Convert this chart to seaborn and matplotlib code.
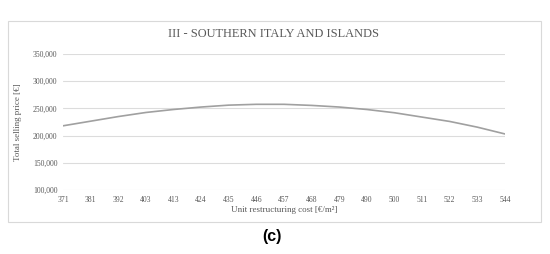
import matplotlib
matplotlib.use("Agg")
import matplotlib.pyplot as plt
from matplotlib.patches import Rectangle
import seaborn as sns
import pandas as pd
import numpy as np

unit_cost = ["371", "381", "392", "403", "413", "424", "435", "446", "457",
             "468", "479", "490", "500", "511", "522", "533", "544"]
selling_price = [218000, 226500, 235000, 242500, 248000, 252500, 256000, 257500, 257500,
                 255500, 252500, 248000, 242000, 234000, 226000, 215500, 203000]
y_ticks = [100000, 150000, 200000, 250000, 300000, 350000]

title = "III - SOUTHERN ITALY AND ISLANDS"
xlabel = "Unit restructuring cost [€/m²]"
ylabel = "Total selling price [€]"
panel = "(c)"

sns.set_theme(style="white")
plt.rcParams['font.family'] = ['Liberation Serif', 'DejaVu Serif']

W, H = 550, 254
fig = plt.figure(figsize=(5.5, 2.54), dpi=100)
ax = fig.add_axes([63 / W, 1 - 190 / H, (505 - 63) / W, (190 - 54) / H])

df = pd.DataFrame({"pos": np.arange(len(unit_cost)), "price": selling_price})
sns.lineplot(data=df, x="pos", y="price", ax=ax, color="#a0a0a0", linewidth=1.2)

ax.set_xlim(0, len(unit_cost) - 1)
ax.set_ylim(y_ticks[0], y_ticks[-1])
ax.set_yticks(y_ticks)
ax.set_yticklabels([f"{v:,}" for v in y_ticks])
ax.set_xticks(np.arange(len(unit_cost)))
ax.set_xticklabels(unit_cost)
ax.tick_params(axis="both", length=0, labelsize=5.5, colors="#595959")
ax.tick_params(axis="y", pad=4)
ax.tick_params(axis="x", pad=4)
ax.grid(axis="y", color="#dcdcdc", linewidth=0.8)
ax.set_axisbelow(True)
for s in ax.spines.values():
    s.set_visible(False)

ax.set_xlabel(xlabel, fontsize=6.5, color="#595959", labelpad=2)
ax.set_ylabel(ylabel, fontsize=6.5, color="#595959", labelpad=8)

fig.text(273 / W, 1 - 34 / H, title, ha="center", va="center", fontsize=8.9, color="#595959")
fig.text(272 / W, 1 - 237 / H, panel, ha="center", va="center", fontsize=11.5,
         fontweight="bold", family=["Liberation Sans", "DejaVu Sans"], color="black")

fig.patches.append(Rectangle((8 / W, 1 - 222 / H), 533 / W, 201 / H, transform=fig.transFigure,
                             fill=False, edgecolor="#d9d9d9", linewidth=0.8))

fig.savefig("out.png", dpi=100)
